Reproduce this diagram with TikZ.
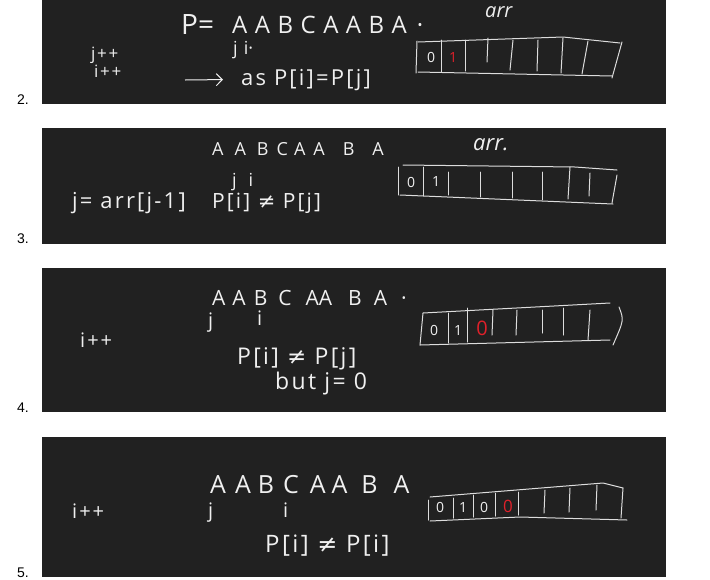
\documentclass[tikz,border=0pt]{standalone}
\usepackage{fontspec}
\setmainfont{Open Sans}
\newfontfamily\labfont{Liberation Sans}
\newfontfamily\symfont{DejaVu Sans}
\newfontfamily\widefont[LetterSpace=10]{Open Sans}
\usetikzlibrary{arrows.meta}
\definecolor{panelc}{HTML}{212121}
\definecolor{ink}{HTML}{F0F0F0}
\definecolor{redink}{HTML}{E0202A}
\tikzset{
  panel/.style={fill=panelc},
  hand/.style={text=ink, inner sep=0pt, anchor=base west},
  fs/.style={font=\fontsize{#1}{#1}\selectfont},
  fsw/.style={font=\widefont\fontsize{#1}{#1}\selectfont},
  fsi/.style={font=\fontsize{#1}{#1}\selectfont\itshape},
  cell/.style={draw=ink!92!black, line width=1pt, line cap=round, line join=round},
  digit/.style={text=ink, inner sep=0pt, font=\fontsize{14}{14}\selectfont},
  rdigit/.style={digit, text=redink},
  steplabel/.style={inner sep=0pt, anchor=base west, font=\labfont\fontsize{14}{14}\selectfont},
}
\begin{document}
\begin{tikzpicture}[x=1pt, y=-1pt]
\useasboundingbox[fill=white] (0,0) rectangle (710,579);
% panels
\fill[panel] (42,0) rectangle (666,104);
\fill[panel] (42,128) rectangle (666,244);
\fill[panel] (42,268) rectangle (666,412);
\fill[panel] (42,437) rectangle (666,577);
% step labels
\node[steplabel] (l2) at (17,104) {2.};
\node[steplabel] (l3) at (17,243) {3.};
\node[steplabel] (l4) at (17,412) {4.};
\node[steplabel] (l5) at (17,577) {5.};

% ---------- panel 2 ----------
\node[hand, fs=28] (p1eq) at (181,34) {P=};
\node[hand, fs=24] (p1str) at (232,33) {A\hspace{7.5pt}A\hspace{7.5pt}B\hspace{7.5pt}C\hspace{7.5pt}A\hspace{7.5pt}A\hspace{7.5pt}B\hspace{7.5pt}A\hspace{10pt}·};
\node[hand, fsi=20] (p1arr) at (485,17) {arr};
\node[hand, fs=18] (p1ji) at (233,54) {j\hspace{6pt}i·};
\node[hand, fsw=17] (p1jpp) at (91,59) {j++};
\node[hand, fsw=17] (p1ipp) at (94,77) {i++};
\node[hand, fsw=22] (p1cond) at (241,85) {as P[i]=P[j]};
\coordinate (p1arrow) at (185,80);
\draw[ink, line width=1pt, -{Straight Barb[length=6pt]}] (p1arrow) -- ([xshift=-18pt]p1cond.west);
% array
\draw[cell] (418,42) -- (563,37) -- (620,43);
\draw[cell] (418,72) -- (612,76);
\draw[cell] (417,41) -- (416,73);
\draw[cell] (622,42) -- (612,78);
\draw[cell] (441,40) -- (441,72);
\draw[cell] (465,40) -- (465,71);
\draw[cell] (488,38) -- (487,62);
\draw[cell] (513,40) -- (510,70);
\draw[cell] (538,40) -- (537,71);
\draw[cell] (563,38) -- (561,73);
\draw[cell] (588,41) -- (582,74);
\node[digit] (c10) at (431,57) {0};
\node[rdigit] (c11) at (453,57) {1};

% ---------- panel 3 ----------
\node[hand, fs=18] (p2str) at (212,155) {A\hspace{11pt}A\hspace{11pt}B\hspace{8pt}C\hspace{6pt}A\hspace{8pt}A\hspace{18pt}B\hspace{18pt}A};
\node[hand, fsi=22] (p2arr) at (473,150) {arr.};
\node[hand, fs=18] (p2ji) at (232,186) {j\hspace{12pt}i};
\node[hand, fsw=22] (p2upd) at (72,208) {j= arr[j-1]};
\node[hand, fsw=21] (p2cond) at (212,208) {P[i] {\symfont ≠} P[j]};
% array
\draw[cell] (403,165) -- (575,167) -- (617,170);
\draw[cell] (400,195) -- (613,204);
\draw[cell] (398,167) -- (398,195);
\draw[cell] (617,175) -- (612,203);
\draw[cell] (423,167) -- (423,196);
\draw[cell] (448,172) -- (448,195);
\draw[cell] (480,172) -- (480,197);
\draw[cell] (512,172) -- (512,198);
\draw[cell] (542,172) -- (542,200);
\draw[cell] (570,167) -- (568,199);
\draw[cell] (590,173) -- (589,196);
\node[digit] (c20) at (411,182) {0};
\node[digit] (c21) at (436,181) {1};

% ---------- panel 4 ----------
\node[hand, fs=21] (p3str) at (212,305) {A\hspace{7pt}A\hspace{8pt}B\hspace{11pt}C\hspace{14pt}A\hspace{0pt}A\hspace{16pt}B\hspace{12pt}A\hspace{14pt}·};
\node[hand, fs=20] (p3j) at (208,327) {j};
\node[hand, fs=20] (p3i) at (257,325) {i};
\node[hand, fsw=20] (p3ipp) at (80,347) {i++};
\node[hand, fsw=23] (p3cond) at (237,364) {P[i] {\symfont ≠} P[j]};
\node[hand, fsw=23] (p3but) at (275,389) {but j= 0};
% array
\draw[cell] (423,313) -- (610,303);
\draw[cell] (420,345) -- (610,340);
\draw[cell] (423,313) -- (420,345);
\draw[cell] (619,307) .. controls (624,320) .. (613,345);
\draw[cell] (448,313) -- (448,343);
\draw[cell] (467,308) -- (467,342);
\draw[cell] (493,310) -- (492,335);
\draw[cell] (517,310) -- (516,335);
\draw[cell] (542,310) -- (542,333);
\draw[cell] (563,308) -- (563,335);
\draw[cell] (590,310) -- (588,340);
\node[digit] (c30) at (434,330) {0};
\node[digit] (c31) at (458,330) {1};
\node[rdigit, font=\fontsize{20}{20}\selectfont] (c32) at (482,328) {0};

% ---------- panel 5 ----------
\node[hand, fs=25] (p4str) at (210,493) {A\hspace{9pt}A\hspace{7pt}B\hspace{9pt}C\hspace{11pt}A\hspace{6pt}A\hspace{14pt}B\hspace{16pt}A};
\node[hand, fs=20] (p4j) at (208,517) {j};
\node[hand, fs=20] (p4i) at (283,517) {i};
\node[hand, fsw=20] (p4ipp) at (72,518) {i++};
\node[hand, fsw=24] (p4cond) at (265,552) {P[i] {\symfont ≠} P[i]};
% array
\draw[cell] (430,497) -- (603,483) -- (623,488);
\draw[cell] (430,521) -- (520,517) -- (627,520);
\draw[cell] (428,500) -- (428,520);
\draw[cell] (623,488) -- (621,518);
\draw[cell] (453,498) -- (453,518);
\draw[cell] (473,495) -- (473,517);
\draw[cell] (495,493) -- (495,516);
\draw[cell] (518,492) -- (518,515);
\draw[cell] (545,490) -- (544,513);
\draw[cell] (570,488) -- (569,512);
\draw[cell] (597,485) -- (596,510);
\node[digit] (c40) at (440,507) {0};
\node[digit] (c41) at (463,507) {1};
\node[digit] (c42) at (484,507) {0};
\node[rdigit, font=\fontsize{17}{17}\selectfont] (c43) at (508,506) {0};
\end{tikzpicture}
\end{document}
